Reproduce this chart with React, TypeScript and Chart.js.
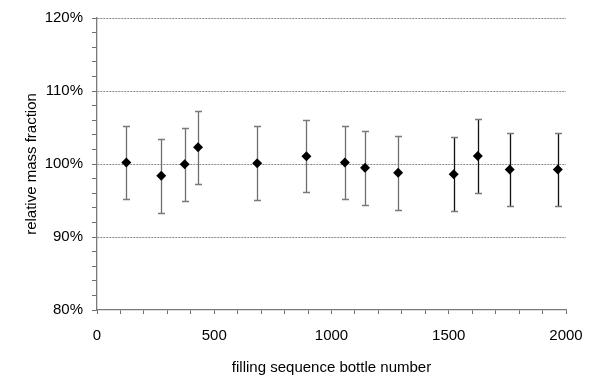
import React, { useEffect, useRef } from "react";
import { Chart, registerables } from "chart.js";

Chart.register(...registerables);

// Bottle positions in the filling sequence and their relative mass fractions (%)
const bottleNumbers = [125, 274, 374, 431, 683, 893, 1057, 1143, 1284, 1521, 1624, 1760, 1965];
const massFraction = [100.2, 98.4, 99.95, 102.3, 100.1, 101.05, 100.2, 99.5, 98.8, 98.6, 101.1, 99.25, 99.25];
const uncertainty = [5.0, 5.05, 5.05, 5.0, 5.05, 4.95, 5.0, 5.05, 5.05, 5.05, 5.05, 4.95, 4.95];

// Axis ranges and labelled tick values
const yLabelledTicks = [80, 90, 100, 110, 120];
const xLabelledTicks = [0, 500, 1000, 1500, 2000];

const xTitle = "filling sequence bottle number";
const yTitle = "relative mass fraction";

// Whisker stroke colours (earlier bottles in grey, the last ones in black)
const whiskerColors = [
  "#6f6f6f", "#6f6f6f", "#6f6f6f", "#6f6f6f", "#6f6f6f", "#6f6f6f",
  "#6f6f6f", "#6f6f6f", "#6f6f6f", "#111111", "#111111", "#111111", "#111111",
];

const FONT = "'Liberation Sans', Arial, Helvetica, sans-serif";

const errorBarPlugin = {
  id: "errorBars",
  beforeDatasetsDraw(chart: any) {
    const { ctx, scales } = chart;
    const x = scales.x;
    const y = scales.y;
    ctx.save();
    bottleNumbers.forEach((b, i) => {
      const px = Math.round(x.getPixelForValue(b)) + 0.5;
      const top = Math.round(y.getPixelForValue(massFraction[i] + uncertainty[i])) + 0.5;
      const bot = Math.round(y.getPixelForValue(massFraction[i] - uncertainty[i])) + 0.5;
      ctx.lineWidth = 1.3;
      ctx.strokeStyle = whiskerColors[i];
      ctx.beginPath();
      ctx.moveTo(px, top);
      ctx.lineTo(px, bot);
      ctx.stroke();
      ctx.strokeStyle = "#7a7a7a";
      ctx.lineWidth = 1.5;
      ctx.beginPath();
      ctx.moveTo(px - 3.5, top);
      ctx.lineTo(px + 3.5, top);
      ctx.moveTo(px - 3.5, bot);
      ctx.lineTo(px + 3.5, bot);
      ctx.stroke();
    });
    ctx.restore();
  },
};

export default function App() {
  const canvasRef = useRef<HTMLCanvasElement | null>(null);

  useEffect(() => {
    const canvas = canvasRef.current;
    if (!canvas) return;
    const chart = new Chart(canvas, {
      type: "scatter",
      data: {
        datasets: [
          {
            data: bottleNumbers.map((b, i) => ({ x: b, y: massFraction[i] })),
            pointStyle: "rectRot",
            pointRadius: 5,
            pointHoverRadius: 5,
            pointBackgroundColor: "#000000",
            pointBorderColor: "#000000",
            pointBorderWidth: 0,
            showLine: false,
          },
        ],
      },
      options: {
        animation: false,
        responsive: false,
        devicePixelRatio: 1,
        events: [],
        layout: { padding: { top: 12, right: 45, bottom: 0, left: 0 } },
        plugins: {
          legend: { display: false },
          tooltip: { enabled: false },
        },
        scales: {
          x: {
            type: "linear",
            min: 0,
            max: 2000,
            afterFit: (scale: any) => {
              scale.height = 69;
            },
            afterBuildTicks: (scale: any) => {
              const t = [];
              for (let v = 0; v <= 2000; v += 100) t.push({ value: v });
              scale.ticks = t;
            },
            ticks: {
              autoSkip: false,
              maxRotation: 0,
              padding: 13,
              color: "#000000",
              font: { family: FONT, size: 15 },
              callback: (v: any) => (xLabelledTicks.includes(Number(v)) ? String(v) : ""),
            },
            grid: {
              drawOnChartArea: false,
              drawTicks: true,
              tickLength: 4,
              tickColor: "#707070",
              tickWidth: 1,
            },
            border: { display: true, color: "#7a7a7a", width: 1.3 },
            title: {
              display: true,
              text: xTitle,
              color: "#000000",
              font: { family: FONT, size: 15 },
              padding: { top: 0, bottom: 2.5 },
            },
          },
          y: {
            type: "linear",
            min: 80,
            max: 120,
            afterFit: (scale: any) => {
              scale.width = 97;
            },
            afterBuildTicks: (scale: any) => {
              const t = [];
              for (let v = 80; v <= 120; v += 2) t.push({ value: v });
              scale.ticks = t;
            },
            ticks: {
              autoSkip: false,
              padding: 9,
              color: "#000000",
              font: { family: FONT, size: 15 },
              callback: (v: any) => (yLabelledTicks.includes(Number(v)) ? v + "%" : ""),
            },
            grid: {
              drawOnChartArea: true,
              drawTicks: true,
              tickLength: 5,
              tickColor: "#707070",
              lineWidth: 1,
              color: (c: any) => {
                const v = c.tick ? c.tick.value : null;
                return v !== null && v % 10 === 0 && v !== 80 ? "#8a8a8a" : "rgba(0,0,0,0)";
              },
            },
            border: { display: true, color: "#7a7a7a", width: 1.3, dash: [2, 1] },
            title: {
              display: true,
              text: yTitle,
              color: "#000000",
              font: { family: FONT, size: 15 },
              padding: { top: 23, bottom: 0 },
            },
          },
        },
      },
      plugins: [errorBarPlugin],
    });
    return () => chart.destroy();
  }, []);

  return (
    <div style={{ position: "fixed", left: 0, top: 0, width: 611, height: 379, background: "#ffffff" }}>
      <canvas ref={canvasRef} width={611} height={379} style={{ width: 611, height: 379, display: "block" }} />
    </div>
  );
}
